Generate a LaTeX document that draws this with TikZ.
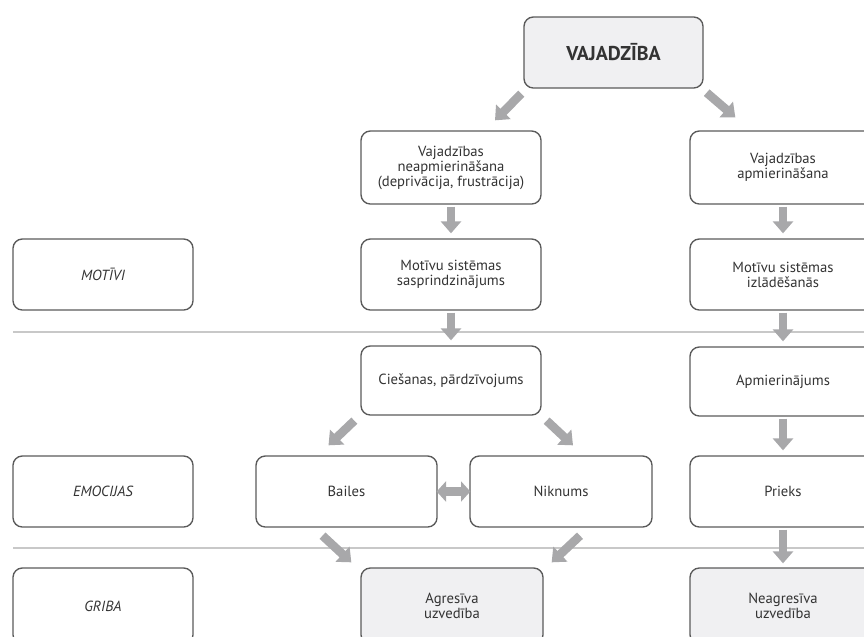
\documentclass[tikz,border=0pt]{standalone}
\usepackage{fontspec}
\setmainfont{PT Sans}
\usetikzlibrary{arrows.meta,calc}
\definecolor{boxline}{HTML}{5A5A5A}
\definecolor{boxfill}{HTML}{F0F0F2}
\definecolor{arrgray}{HTML}{A8A8AA}
\definecolor{sepline}{HTML}{C8C8C8}
\definecolor{txt}{HTML}{333333}
\tikzset{
  box/.style={draw=boxline, line width=1pt, rounded corners=7pt, align=center,
    inner sep=0pt, text=txt, font=\fontsize{11}{11.2}\selectfont},
  graybox/.style={box, fill=boxfill},
  arr/.style={draw=arrgray, line width=6.5pt, -{Triangle[width=15pt,length=9pt]}},
  darr/.style={draw=arrgray, line width=6.5pt, {Triangle[width=15pt,length=7pt]}-{Triangle[width=15pt,length=7pt]}},
  sep/.style={draw=sepline, line width=1pt},
  lab/.style={box, font=\fontsize{11}{12}\selectfont\itshape}
}
\begin{document}
\begin{tikzpicture}[x=0.75pt,y=-0.75pt]
\useasboundingbox (0,0) rectangle (864,636);
\clip (0,0) rectangle (864,636);
% separator lines
\draw[sep] (13,332) -- (870,332);
\draw[sep] (13,548) -- (870,548);
% nodes
\node[graybox, minimum width=179*0.75pt, minimum height=71*0.75pt, font=\fontsize{15}{16}\selectfont\bfseries] (vaj) at (613.5,52.5) {VAJADZĪBA};
\node[box, minimum width=180*0.75pt, minimum height=73*0.75pt] (nb1) at (451,167.5) {Vajadzības\\neapmierināšana\\(deprivācija, frustrācija)};
\node[box, minimum width=186*0.75pt, minimum height=73*0.75pt] (ap1) at (783,167.5) {Vajadzības\\apmierināšana};
\node[lab, minimum width=180*0.75pt, minimum height=71*0.75pt] (mot) at (103,274.5) {MOTĪVI};
\node[box, minimum width=180*0.75pt, minimum height=71*0.75pt] (ms1) at (451,274.5) {Motīvu sistēmas\\sasprindzinājums};
\node[box, minimum width=186*0.75pt, minimum height=71*0.75pt] (ms2) at (783,274.5) {Motīvu sistēmas\\izlādēšanās};
\node[box, minimum width=180*0.75pt, minimum height=69*0.75pt] (cie) at (451,380.5) {Ciešanas, pārdzīvojums};
\node[box, minimum width=186*0.75pt, minimum height=69*0.75pt] (ap2) at (783,381.5) {Apmierinājums};
\node[lab, minimum width=180*0.75pt, minimum height=71*0.75pt] (emo) at (103,491.5) {EMOCIJAS};
\node[box, minimum width=181*0.75pt, minimum height=71*0.75pt] (bai) at (346.5,491.5) {Bailes};
\node[box, minimum width=182*0.75pt, minimum height=71*0.75pt] (nik) at (561,491.5) {Niknums};
\node[box, minimum width=186*0.75pt, minimum height=71*0.75pt] (pri) at (783,491.5) {Prieks};
\node[lab, minimum width=180*0.75pt, minimum height=76*0.75pt] (gri) at (103,606) {GRIBA};
\node[graybox, minimum width=182*0.75pt, minimum height=76*0.75pt] (agr) at (452,606) {Agresīva\\uzvedība};
\node[graybox, minimum width=186*0.75pt, minimum height=76*0.75pt] (nea) at (783,606) {Neagresīva\\uzvedība};
% arrows
\draw[arr] ($(vaj.south west)+(-2,5)$) -- ($(nb1.north)+(44,-10)$);
\draw[arr] ($(vaj.south east)+(3,4)$) -- ($(ap1.north west)+(46,-13)$);
\draw[arr] ($(nb1.south)+(0,2)$) -- ($(ms1.north)+(0,-5)$);
\draw[arr] ($(ap1.south)+(0,2)$) -- ($(ms2.north)+(0,-5)$);
\draw[arr] ($(ms1.south)+(0,2)$) -- ($(cie.north)+(0,-5)$);
\draw[arr] ($(ms2.south)+(0,2)$) -- ($(ap2.north)+(0,-5)$);
\draw[arr] ($(cie.south west)+(-6,5)$) -- ($(bai.north)+(-18,-10)$);
\draw[arr] ($(cie.south east)+(5,5)$) -- ($(nik.north)+(12,-10)$);
\draw[arr] ($(ap2.south)+(0,2)$) -- ($(pri.north)+(0,-5)$);
\draw[darr] ($(bai.east)+(-1,0)$) -- ($(nik.west)+(1,0)$);
\draw[arr] ($(bai.south)+(-24,8)$) -- ($(agr.north west)+(-9,-5)$);
\draw[arr] ($(nik.south)+(19,8)$) -- ($(agr.north east)+(8,-5)$);
\draw[arr] ($(pri.south)+(0,2)$) -- ($(nea.north)+(0,-4)$);
\end{tikzpicture}
\end{document}
